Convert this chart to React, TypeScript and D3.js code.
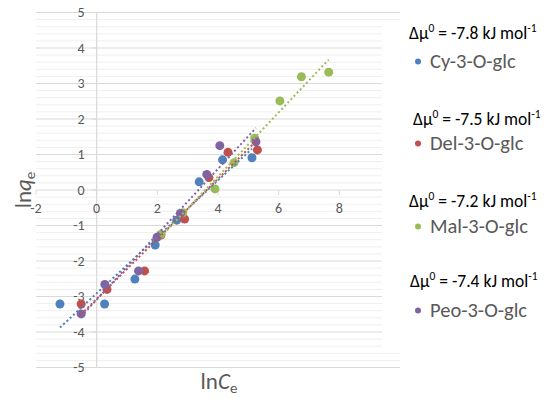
import React, { useEffect, useRef } from "react";
import * as d3 from "d3";

// lnCe / lnqe per anthocyanin
const cyX = [-1.21, 0.26, 1.26, 1.93, 2.64, 3.38, 4.15, 5.12];
const cyY = [-3.21, -3.21, -2.51, -1.55, -0.85, 0.23, 0.85, 0.91];
const delX = [-0.51, 0.34, 1.58, 2.12, 2.9, 3.7, 4.33, 5.3];
const delY = [-3.21, -2.8, -2.28, -1.27, -0.82, 0.35, 1.06, 1.13];
const malX = [2.11, 2.84, 3.9, 4.53, 5.21, 6.04, 6.75, 7.65];
const malY = [-1.25, -0.64, 0.03, 0.77, 1.46, 2.51, 3.19, 3.32];
const peoX = [-0.51, 0.27, 1.38, 1.99, 2.76, 3.63, 4.06, 5.25];
const peoY = [-3.49, -2.66, -2.28, -1.33, -0.66, 0.44, 1.25, 1.36];

const seriesNames = ["Cy-3-O-glc", "Del-3-O-glc", "Mal-3-O-glc", "Peo-3-O-glc"];
const deltaMu = ["-7.8", "-7.5", "-7.2", "-7.4"];
const colors = ["#4F81BD", "#C0504D", "#9BBB59", "#8064A2"];

const xTicks = [-2, 0, 2, 4, 6, 8, 10];
const yTicks = [-5, -4, -3, -2, -1, 0, 1, 2, 3, 4, 5];

const W = 551;
const H = 398;
const FONT = "Carlito, Lato, 'Open Sans', sans-serif";

const fit = (xs: number[], ys: number[]) => {
  const mx = d3.mean(xs) as number;
  const my = d3.mean(ys) as number;
  const sxy = d3.sum(xs, (x, i) => (x - mx) * (ys[i] - my));
  const sxx = d3.sum(xs, (x) => (x - mx) * (x - mx));
  const b = sxy / sxx;
  const a = my - b * mx;
  const [x0, x1] = d3.extent(xs) as [number, number];
  return [
    [x0, a + b * x0],
    [x1, a + b * x1],
  ] as [number, number][];
};

const App: React.FC = () => {
  const svgRef = useRef<SVGSVGElement | null>(null);

  useEffect(() => {
    if (!svgRef.current) return;
    const svg = d3.select(svgRef.current);
    svg.selectAll("*").remove();

    const x = d3.scaleLinear().domain([-2, 10]).range([36, 400]);
    const y = d3.scaleLinear().domain([-5, 5]).range([367.5, 12.5]);

    const series = [
      { xs: cyX, ys: cyY },
      { xs: delX, ys: delY },
      { xs: malX, ys: malY },
      { xs: peoX, ys: peoY },
    ];

    // minor + major horizontal gridlines
    const minor = d3.range(-5, 5.001, 0.2).filter((v) => Math.abs(v - Math.round(v)) > 0.01);
    svg
      .append("g")
      .selectAll("line")
      .data(minor)
      .join("line")
      .attr("x1", x(-2))
      .attr("x2", x(10))
      .attr("y1", (d) => y(d))
      .attr("y2", (d) => y(d))
      .attr("stroke", "#EFEFEF")
      .attr("stroke-width", 1);

    svg
      .append("g")
      .selectAll("line")
      .data(yTicks)
      .join("line")
      .attr("x1", x(-2))
      .attr("x2", x(10))
      .attr("y1", (d) => y(d))
      .attr("y2", (d) => y(d))
      .attr("stroke", "#D9D9D9")
      .attr("stroke-width", 1.2);

    // y axis at x = 0
    svg
      .append("line")
      .attr("x1", x(0))
      .attr("x2", x(0))
      .attr("y1", y(5))
      .attr("y2", y(-5))
      .attr("stroke", "#D9D9D9")
      .attr("stroke-width", 1.2);

    svg
      .append("g")
      .selectAll("line")
      .data(yTicks)
      .join("line")
      .attr("x1", x(0) - 5)
      .attr("x2", x(0))
      .attr("y1", (d) => y(d))
      .attr("y2", (d) => y(d))
      .attr("stroke", "#D9D9D9");

    // x axis ticks at y = 0
    svg
      .append("g")
      .selectAll("line")
      .data(xTicks)
      .join("line")
      .attr("x1", (d) => x(d))
      .attr("x2", (d) => x(d))
      .attr("y1", y(0))
      .attr("y2", y(0) + 5)
      .attr("stroke", "#D9D9D9");

    svg
      .append("g")
      .selectAll("text")
      .data(yTicks)
      .join("text")
      .attr("x", x(0) - 12)
      .attr("y", (d) => y(d))
      .attr("dy", "0.35em")
      .attr("text-anchor", "end")
      .attr("font-family", FONT)
      .attr("font-size", 14)
      .attr("fill", "#595959")
      .text((d) => d);

    svg
      .append("g")
      .selectAll("text")
      .data(xTicks)
      .join("text")
      .attr("x", (d) => x(d))
      .attr("y", y(0) + 18)
      .attr("dy", "0.35em")
      .attr("text-anchor", "middle")
      .attr("font-family", FONT)
      .attr("font-size", 14)
      .attr("fill", "#595959")
      .text((d) => d);

    // points
    series.forEach((s, k) => {
      svg
        .append("g")
        .selectAll("circle")
        .data(s.xs.map((v, i) => [v, s.ys[i]]))
        .join("circle")
        .attr("cx", (d) => x(d[0]))
        .attr("cy", (d) => y(d[1]))
        .attr("r", 4.5)
        .attr("fill", colors[k]);
    });

    // linear trendlines
    const line = d3
      .line<[number, number]>()
      .x((d) => x(d[0]))
      .y((d) => y(d[1]));
    series.forEach((s, k) => {
      svg
        .append("path")
        .attr("d", line(fit(s.xs, s.ys)))
        .attr("fill", "none")
        .attr("stroke", colors[k])
        .attr("stroke-width", 2)
        .attr("stroke-dasharray", "2 2.5");
    });

    // legend
    svg.append("rect").attr("x", 382).attr("y", 22).attr("width", W - 382).attr("height", 327).attr("fill", "#fff");

    const muY = [39, 125, 207, 287];
    const muX = [409, 413, 409, 410];
    const nameY = [68, 150, 233, 317];
    const lg = svg.append("g").attr("font-family", FONT);
    seriesNames.forEach((name, k) => {
      const t = lg
        .append("text")
        .attr("x", muX[k])
        .attr("y", muY[k])
        .attr("font-size", 17.5)
        .attr("fill", "#000");
      t.append("tspan").text("Δμ");
      t.append("tspan").attr("dy", -7).attr("font-size", 11.5).text("0");
      t.append("tspan").attr("dy", 7).text(` = ${deltaMu[k]} kJ mol`);
      t.append("tspan").attr("dy", -7).attr("font-size", 11.5).text("-1");

      lg.append("circle")
        .attr("cx", 418)
        .attr("cy", nameY[k] - 6.5)
        .attr("r", 3)
        .attr("fill", colors[k]);
      lg.append("text")
        .attr("x", 430)
        .attr("y", nameY[k])
        .attr("font-size", 20.5)
        .attr("fill", "#595959")
        .text(name);
    });

    // axis titles
    const yt = svg
      .append("text")
      .attr("transform", `translate(31,190) rotate(-90)`)
      .attr("text-anchor", "middle")
      .attr("font-family", FONT)
      .attr("font-size", 23)
      .attr("fill", "#595959");
    yt.append("tspan").text("ln");
    yt.append("tspan").attr("font-style", "italic").text("q");
    yt.append("tspan").attr("dy", 4).attr("font-size", 15).text("e");

    const xt = svg
      .append("text")
      .attr("x", 219)
      .attr("y", 389)
      .attr("text-anchor", "middle")
      .attr("font-family", FONT)
      .attr("font-size", 23)
      .attr("fill", "#595959");
    xt.append("tspan").text("ln");
    xt.append("tspan").attr("font-style", "italic").text("C");
    xt.append("tspan").attr("dy", 4).attr("font-size", 15).text("e");
  }, []);

  return (
    <svg
      ref={svgRef}
      width={W}
      height={H}
      style={{ position: "absolute", left: 0, top: 0, background: "#fff" }}
    ></svg>
  );
};

export default App;
